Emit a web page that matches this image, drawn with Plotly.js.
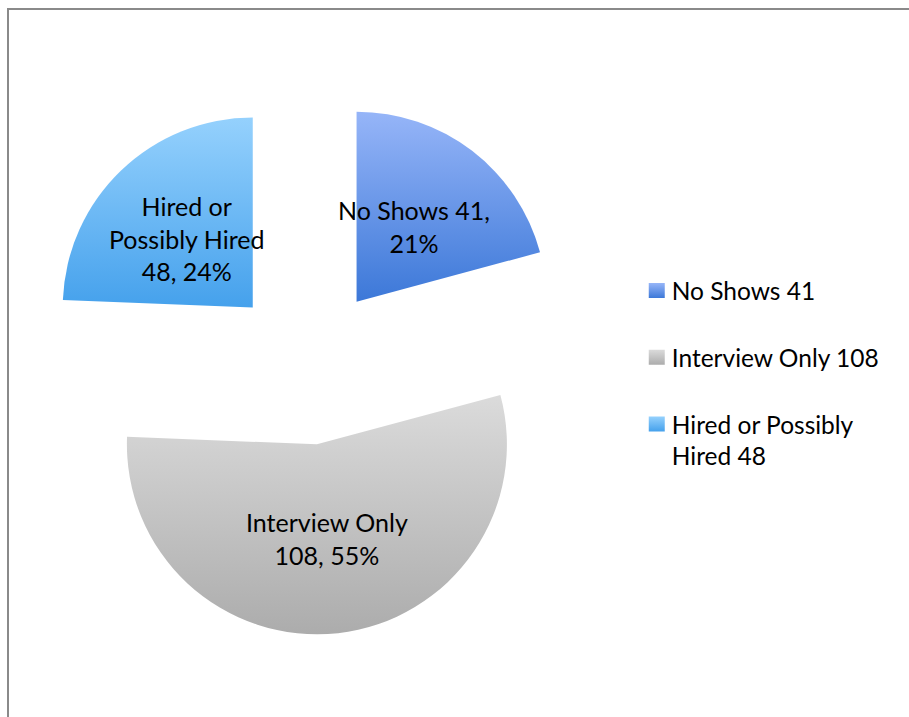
<!DOCTYPE html>
<html>
<head>
<meta charset="utf-8">
<script src="https://cdn.plot.ly/plotly-3.0.1.min.js"></script>
<style>
  html, body { margin: 0; padding: 0; background: #fff; }
  #wrap { position: relative; width: 909px; height: 717px; }
  #chart { position: absolute; left: 0; top: 0; width: 909px; height: 717px; }
  #frame { position: absolute; left: 7px; top: 8px; width: 905px; height: 712px;
           border-top: 2px solid #8a8a8a; border-left: 2px solid #8a8a8a; pointer-events: none; }
</style>
</head>
<body>
<div id="wrap">
  <div id="chart"></div>
  <div id="frame"></div>
</div>
<script>
// Data
var categories = ["No Shows 41", "Interview Only 108", "Hired or Possibly Hired 48"];
var values = [41, 108, 48];
var legendLabels = ["No Shows 41<br>\u00a0", "Interview Only 108<br>\u00a0", "Hired or Possibly<br>Hired 48"];
var sliceNames = ["No Shows 41", "Interview Only", "Hired or<br>Possibly Hired"];
var sliceNums = ["", "108", "48"];
var colors = ["#6893e7", "#c6c6c6", "#6bbaf4"];
var gradTop = ["#96b5f8", "#dbdbdb", "#95d1fd"];
var gradBottom = ["#3c78d8", "#acacac", "#45a1ec"];

var FONT = "Lato, 'Open Sans', sans-serif";
var W = 909, H = 717;
var PULL = 0.42;
var dom = { x: [0.042, 0.6357], y: [0.1146, 0.8672] };

var trace = {
  type: "pie",
  labels: legendLabels,
  values: values,
  textinfo: "none",
  sort: false,
  direction: "clockwise",
  rotation: 0,
  pull: values.map(function () { return PULL; }),
  marker: { colors: colors, line: { width: 0 } },
  domain: dom,
  hoverinfo: "none"
};

// label positions derived from the slice angles (pie geometry)
var total = values.reduce(function (a, b) { return a + b; }, 0);
var wpx = W * (dom.x[1] - dom.x[0]), hpx = H * (dom.y[1] - dom.y[0]);
var r = Math.min(wpx, hpx) / 2 / (1 + PULL);
var cxp = W * (dom.x[0] + dom.x[1]) / 2;
var cyp = H * (1 - dom.y[0]) - hpx / 2;
var annotations = [];
var cum = 0;
values.forEach(function (v, i) {
  var mid = (cum + v / 2) / total * 2 * Math.PI;
  cum += v;
  var d = PULL * r + 0.5 * r;
  var px = cxp + d * Math.sin(mid);
  var py = cyp - d * Math.cos(mid);
  var pct = Math.round(v / total * 100) + "%";
  var txt = i === 0 ? sliceNames[i] + ",<br>" + pct
                    : sliceNames[i] + "<br>" + sliceNums[i] + ", " + pct;
  annotations.push({
    x: px / W, y: 1 - py / H, xref: "paper", yref: "paper",
    xanchor: "center", yanchor: "middle", showarrow: false,
    text: txt, align: "center",
    font: { family: FONT, size: 25, color: "#000" }
  });
});

var layout = {
  width: W,
  height: H,
  margin: { l: 0, r: 0, t: 0, b: 0 },
  paper_bgcolor: "#ffffff",
  showlegend: true,
  legend: {
    x: 0.695, y: 0.626, xanchor: "left", yanchor: "top",
    valign: "top",
    font: { family: FONT, size: 24.5, color: "#000" },
    bgcolor: "rgba(0,0,0,0)"
  },
  annotations: annotations,
  font: { family: FONT }
};

Plotly.newPlot("chart", [trace], layout, { displayModeBar: false, staticPlot: true }).then(function (gd) {
  var NS = "http://www.w3.org/2000/svg";
  var svg = gd.querySelector("svg.main-svg");
  var defs = svg.querySelector("defs") || svg.insertBefore(document.createElementNS(NS, "defs"), svg.firstChild);
  values.forEach(function (v, i) {
    var lg = document.createElementNS(NS, "linearGradient");
    lg.setAttribute("id", "sliceGrad" + i);
    lg.setAttribute("x1", "0"); lg.setAttribute("y1", "0");
    lg.setAttribute("x2", "0"); lg.setAttribute("y2", "1");
    var s0 = document.createElementNS(NS, "stop");
    s0.setAttribute("offset", "0"); s0.setAttribute("stop-color", gradTop[i]);
    var s1 = document.createElementNS(NS, "stop");
    s1.setAttribute("offset", "1"); s1.setAttribute("stop-color", gradBottom[i]);
    lg.appendChild(s0); lg.appendChild(s1);
    defs.appendChild(lg);
  });
  var slices = gd.querySelectorAll("g.slice path.surface");
  slices.forEach(function (p, i) { p.style.fill = "url(#sliceGrad" + i + ")"; });
  var leg = gd.querySelectorAll(".legend .traces");
  leg.forEach(function (t, i) {
    var p = t.querySelector("path.legendpie");
    if (p) {
      p.style.fill = "url(#sliceGrad" + i + ")";
      p.setAttribute("d", "M13,7.5H-3V-7.5H13Z");
    }
  });
});
</script>
</body>
</html>
